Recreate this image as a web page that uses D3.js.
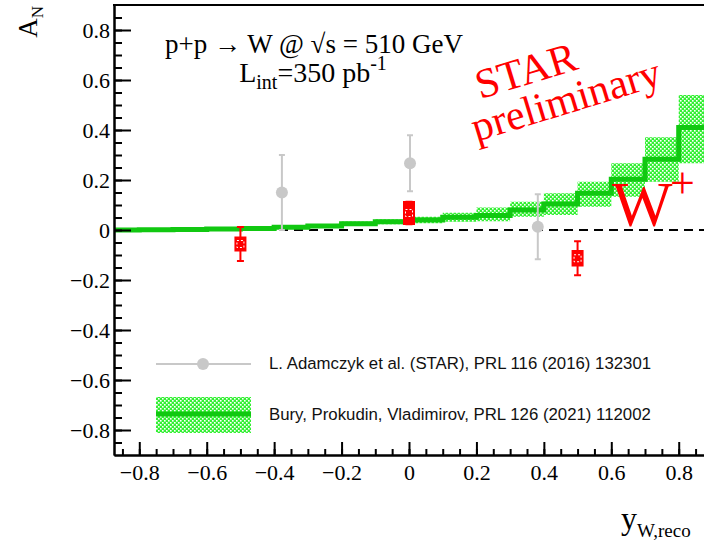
<!DOCTYPE html>
<html lang="en">
<head>
<meta charset="UTF-8">
<title>A_N vs y_W</title>
<script src="https://cdn.jsdelivr.net/npm/d3@7"></script>
<style>
    body { margin: 0; background: #fff; }
    svg { display: block; }
    .serif { font-family: "Liberation Serif", "Times New Roman", serif; }
    .sans { font-family: "Liberation Sans", Arial, sans-serif; }
</style>
</head>
<body>
<div id="chart"></div>
<script>
// ---------------- data ----------------
// axis ticks
var xMajor = [-0.8, -0.6, -0.4, -0.2, 0, 0.2, 0.4, 0.6, 0.8];
var yMajor = [-0.8, -0.6, -0.4, -0.2, 0, 0.2, 0.4, 0.6, 0.8];

// this measurement (W+), red
var redX = [-0.5, 0, 0.5];
var redY = [-0.056, 0.068, -0.113];
var redStat = [0.068, 0.045, 0.068];
var redSys = [0.030, 0.048, 0.033];

// previous STAR result, grey
var greyX = [-0.377, 0.003, 0.382];
var greyY = [0.150, 0.267, 0.013];
var greyErr = [0.150, 0.112, 0.130];

// theory (Bury, Prokudin, Vladimirov), bins of 0.1
var thEdges = [-0.9, -0.8, -0.7, -0.6, -0.5, -0.4, -0.3, -0.2, -0.1, 0, 0.1, 0.2, 0.3, 0.4, 0.5, 0.6, 0.7, 0.8, 0.9];
var thVal  = [0.000, 0.001, 0.002, 0.004, 0.006, 0.011, 0.016, 0.025, 0.033, 0.040, 0.051, 0.058, 0.080, 0.104, 0.147, 0.203, 0.283, 0.410];
var thLow  = [-0.002, -0.001, -0.001, 0.001, 0.002, 0.005, 0.009, 0.016, 0.023, 0.027, 0.033, 0.035, 0.053, 0.060, 0.093, 0.133, 0.193, 0.267];
var thHigh = [0.002, 0.003, 0.005, 0.007, 0.010, 0.017, 0.023, 0.034, 0.043, 0.053, 0.069, 0.090, 0.113, 0.147, 0.193, 0.267, 0.371, 0.540];

// legend labels
var legendLabels = ["L. Adamczyk et al. (STAR), PRL 116 (2016) 132301",
                    "Bury, Prokudin, Vladimirov, PRL 126 (2021) 112002"];

// ---------------- chart ----------------
var W = 704, H = 540;
// "top" is taken by window.top, so plain names for the frame
var padL = 114, padR = 704, padT = 5, padB = 455;

var svg = d3.select("#chart").append("svg").attr("width", W).attr("height", H);

var x = d3.scaleLinear().domain([-0.875, 0.875]).range([padL, padR]);
var y = d3.scaleLinear().domain([-0.9, 0.9]).range([padB, padT]);

var green = "#11c811";
var grey = "#c8c8c8";
var red = "#ff0000";

// checker fill for the theory band
var defs = svg.append("defs");
var pat = defs.append("pattern").attr("id", "chk").attr("patternUnits", "userSpaceOnUse")
    .attr("width", 4).attr("height", 4);
pat.append("rect").attr("width", 4).attr("height", 4).attr("fill", "#33f033");
pat.append("rect").attr("x", 0).attr("y", 0).attr("width", 1.6).attr("height", 1.6).attr("fill", "#fff");
pat.append("rect").attr("x", 2).attr("y", 2).attr("width", 1.6).attr("height", 1.6).attr("fill", "#fff");

defs.append("clipPath").attr("id", "plotclip").append("rect")
    .attr("x", padL).attr("y", padT).attr("width", padR - padL).attr("height", padB - padT);

var plot = svg.append("g").attr("clip-path", "url(#plotclip)");

// theory band
var bins = thVal.map(function(v, i) {
    return { x0: thEdges[i], x1: thEdges[i + 1], v: v, lo: thLow[i], hi: thHigh[i] };
});
plot.selectAll("rect.band").data(bins).enter().append("rect").attr("class", "band")
    .attr("x", function(d) { return x(d.x0); })
    .attr("width", function(d) { return x(d.x1) - x(d.x0); })
    .attr("y", function(d) { return y(d.hi); })
    .attr("height", function(d) { return y(d.lo) - y(d.hi); })
    .attr("fill", "url(#chk)");

// zero line
plot.append("line").attr("x1", x(-0.875)).attr("x2", x(0.875)).attr("y1", y(0)).attr("y2", y(0))
    .attr("stroke", "#000").attr("stroke-width", 2).attr("stroke-dasharray", "9,6");

// theory central line (step)
var stepPts = bins.map(function(d) { return [d.x0, d.v]; });
stepPts.push([bins[bins.length - 1].x1, bins[bins.length - 1].v]);
plot.append("path").datum(stepPts)
    .attr("d", d3.line().x(function(d) { return x(d[0]); }).y(function(d) { return y(d[1]); }).curve(d3.curveStepAfter))
    .attr("fill", "none").attr("stroke", green).attr("stroke-width", 5);

// grey points
var greyPts = greyX.map(function(v, i) { return { x: v, y: greyY[i], e: greyErr[i] }; });
var gg = plot.selectAll("g.grey").data(greyPts).enter().append("g");
gg.append("line").attr("x1", function(d) { return x(d.x); }).attr("x2", function(d) { return x(d.x); })
    .attr("y1", function(d) { return y(d.y + d.e); }).attr("y2", function(d) { return y(d.y - d.e); })
    .attr("stroke", grey).attr("stroke-width", 2);
[1, -1].forEach(function(s) {
    gg.append("line").attr("x1", function(d) { return x(d.x) - 3; }).attr("x2", function(d) { return x(d.x) + 3; })
        .attr("y1", function(d) { return y(d.y + s * d.e); }).attr("y2", function(d) { return y(d.y + s * d.e); })
        .attr("stroke", grey).attr("stroke-width", 2);
});
gg.append("circle").attr("cx", function(d) { return x(d.x); }).attr("cy", function(d) { return y(d.y); })
    .attr("r", 6).attr("fill", grey);

// red points
var redPts = redX.map(function(v, i) { return { x: v, y: redY[i], e: redStat[i], s: redSys[i] }; });
var rg = plot.selectAll("g.red").data(redPts).enter().append("g");
rg.append("line").attr("x1", function(d) { return x(d.x); }).attr("x2", function(d) { return x(d.x); })
    .attr("y1", function(d) { return y(d.y + d.e); }).attr("y2", function(d) { return y(d.y - d.e); })
    .attr("stroke", red).attr("stroke-width", 2);
[1, -1].forEach(function(s) {
    rg.append("line").attr("x1", function(d) { return x(d.x) - 3.5; }).attr("x2", function(d) { return x(d.x) + 3.5; })
        .attr("y1", function(d) { return y(d.y + s * d.e); }).attr("y2", function(d) { return y(d.y + s * d.e); })
        .attr("stroke", red).attr("stroke-width", 2);
});
rg.append("rect").attr("x", function(d) { return x(d.x) - 6; }).attr("width", 12)
    .attr("y", function(d) { return y(d.y + d.s); })
    .attr("height", function(d) { return y(d.y - d.s) - y(d.y + d.s); })
    .attr("fill", red);
rg.append("rect").attr("x", function(d) { return x(d.x) - 3.5; }).attr("width", 7)
    .attr("y", function(d) { return y(d.y) - 3.5; }).attr("height", 7)
    .attr("fill", "none").attr("stroke", "#fff").attr("stroke-width", 1).attr("stroke-dasharray", "2,2");

// ---------------- axes ----------------
var fmt = function(d) { return d === 0 ? "0" : d3.format(".1f")(d); };
var minor = d3.range(-17, 18).map(function(i) { return i * 0.05; });

var xAxisG = svg.append("g").attr("transform", "translate(0," + padB + ")");
xAxisG.append("g").call(d3.axisBottom(x).tickValues(minor).tickSize(-6).tickSizeOuter(0).tickFormat(""));
xAxisG.append("g").call(d3.axisBottom(x).tickValues(xMajor).tickSize(-13).tickSizeOuter(0).tickPadding(9).tickFormat(fmt));

var yAxisG = svg.append("g").attr("transform", "translate(" + padL + ",0)");
yAxisG.append("g").call(d3.axisLeft(y).tickValues(minor).tickSize(-8).tickSizeOuter(0).tickFormat(""));
yAxisG.append("g").call(d3.axisLeft(y).tickValues(yMajor).tickSize(-17).tickSizeOuter(0).tickPadding(4).tickFormat(fmt));

svg.selectAll(".domain").attr("stroke", "#000").attr("stroke-width", 2);
svg.selectAll(".tick line").attr("stroke", "#000").attr("stroke-width", 2);
svg.selectAll(".tick text").attr("class", "serif").attr("font-size", 22).attr("fill", "#000");

// top frame line
svg.append("line").attr("x1", padL - 1).attr("x2", W).attr("y1", padT).attr("y2", padT)
    .attr("stroke", "#000").attr("stroke-width", 2);

// axis titles
var yt = svg.append("text").attr("class", "serif").attr("text-anchor", "end")
    .attr("transform", "translate(37,6) rotate(-90)").attr("font-size", 27);
yt.append("tspan").text("A");
yt.append("tspan").attr("font-size", 17).attr("dy", 6).text("N");

var xt = svg.append("text").attr("class", "serif").attr("x", 621).attr("y", 529).attr("font-size", 32);
xt.append("tspan").text("y");
xt.append("tspan").attr("font-size", 19).attr("dy", 8).text("W,reco");

// ---------------- labels ----------------
svg.append("text").attr("class", "serif").attr("x", 165).attr("y", 53).attr("font-size", 27)
    .text("p+p \u2192 W @ \u221As = 510 GeV");
var lum = svg.append("text").attr("class", "serif").attr("x", 313).attr("y", 82)
    .attr("text-anchor", "middle").attr("font-size", 28);
lum.append("tspan").text("L");
lum.append("tspan").attr("font-size", 20).attr("dy", 7).text("int");
lum.append("tspan").attr("dy", -7).text("=350 pb");
lum.append("tspan").attr("font-size", 20).attr("dy", -12).text("-1");

svg.append("text").attr("class", "serif").attr("fill", red).attr("font-size", 42)
    .attr("text-anchor", "middle").attr("transform", "translate(530,84) rotate(-17)").text("STAR");
svg.append("text").attr("class", "serif").attr("fill", red).attr("font-size", 42)
    .attr("text-anchor", "middle").attr("transform", "translate(570,113) rotate(-17)").text("preliminary");

svg.append("text").attr("class", "serif").attr("fill", red).attr("font-size", 64)
    .attr("x", 612).attr("y", 226).text("W");
svg.append("text").attr("class", "serif").attr("fill", red).attr("font-size", 44)
    .attr("x", 670).attr("y", 198).text("+");

// ---------------- legend ----------------
var lg = svg.append("g");
lg.append("line").attr("x1", 156).attr("x2", 251).attr("y1", 364).attr("y2", 364)
    .attr("stroke", grey).attr("stroke-width", 2);
lg.append("circle").attr("cx", 203).attr("cy", 364).attr("r", 6).attr("fill", grey);
lg.append("rect").attr("x", 156).attr("y", 397).attr("width", 95).attr("height", 36).attr("fill", "url(#chk)");
lg.append("line").attr("x1", 156).attr("x2", 251).attr("y1", 414).attr("y2", 414)
    .attr("stroke", green).attr("stroke-width", 5);
lg.selectAll("text").data(legendLabels).enter().append("text").attr("class", "sans")
    .attr("x", 269).attr("y", function(d, i) { return 369 + i * 51; })
    .attr("font-size", 16.8).attr("fill", "#111").text(function(d) { return d; });
</script>
</body>
</html>
